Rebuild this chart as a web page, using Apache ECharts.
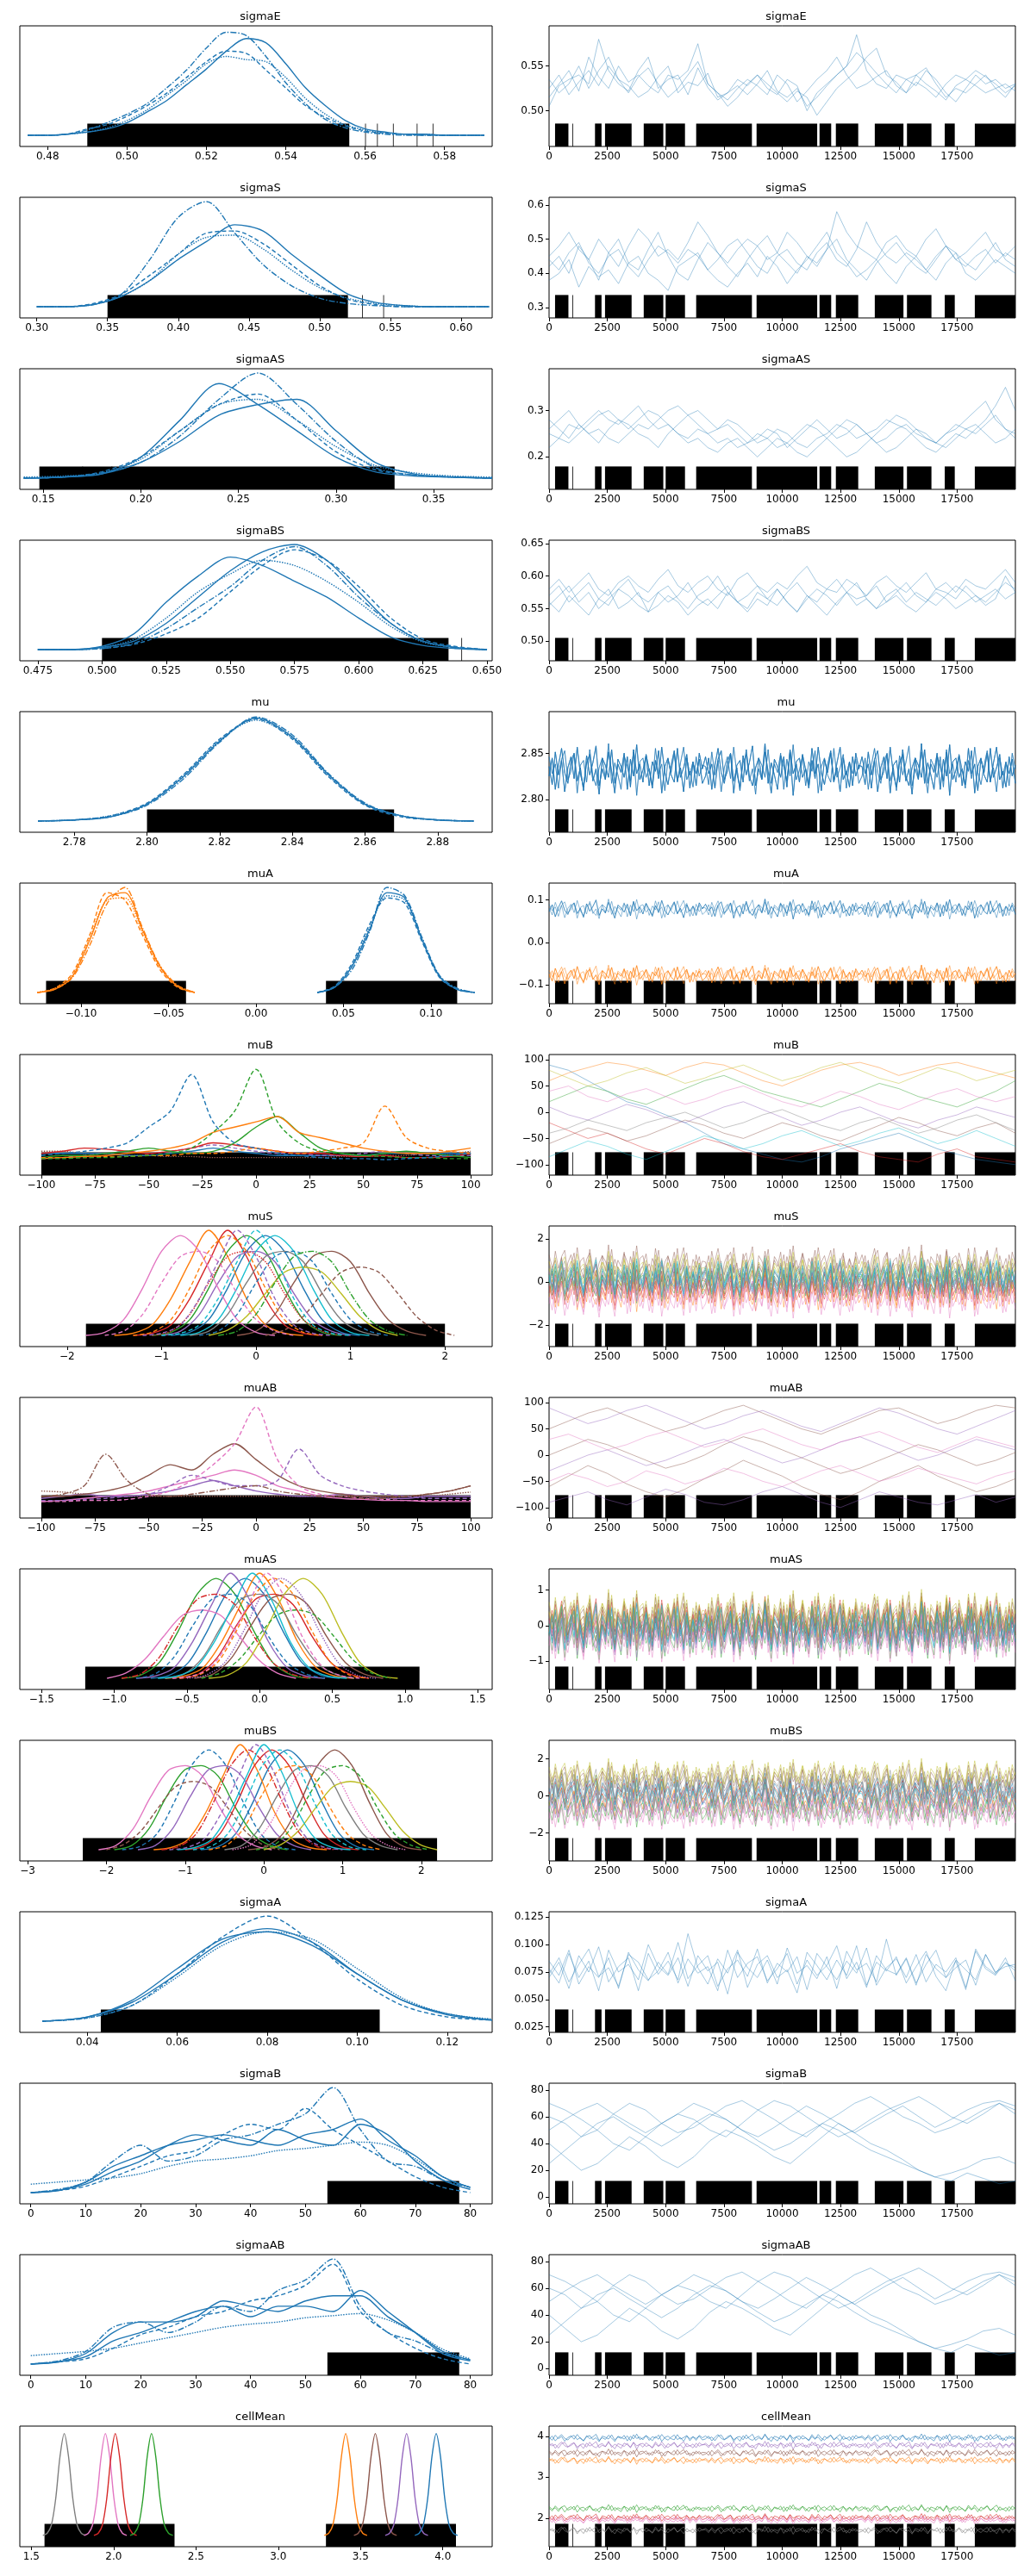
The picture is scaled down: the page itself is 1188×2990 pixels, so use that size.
<!DOCTYPE html>
<html>
<head>
<meta charset="utf-8">
<script src="https://cdn.jsdelivr.net/npm/echarts@6/dist/echarts.min.js"></script>
<style>html,body{margin:0;padding:0;background:#fff}#chart{width:1188px;height:2990px}</style>
</head>
<body>
<div id="chart"></div>
<script>
var C = ['#1f77b4','#ff7f0e','#2ca02c','#d62728','#9467bd','#8c564b','#e377c2','#7f7f7f','#bcbd22','#17becf'];
var LS = {s:'solid', d:[5,3], dd:[7,2,1.5,2], dot:[1.5,1.5]};
var MINUS = '\u2212';

// shapes of kde curves (11 points)
var G = {
  G1:[0,.03,.15,.45,.8,.95,.8,.45,.15,.03,0],
  G2:[0,.04,.2,.5,.75,.8,.7,.4,.15,.04,0],
  G3:[0,.02,.1,.35,.7,1,.75,.35,.1,.02,0],
  G4:[0,.05,.18,.4,.6,.65,.6,.4,.18,.05,0],
  G5:[0,.02,.1,.35,.75,.97,.75,.35,.1,.02,0]
};
// deviations used for the dense trace bands
var N = [
 '0.3 -1.2 1.5 -0.4 0.8 -1.8 0.2 1.1 -0.7 1.9 -0.3 -1.4 0.6 1.3 -0.9 0.1 -2.0 1.0 0.4 -0.6 1.7 -1.1 0.5 -0.2 1.4 -1.6 0.9 -0.5 2.1 -0.8 0.0 1.2 -1.3 0.7 -0.1 1.6 -1.9 0.3 1.0 -0.4 -1.0 1.8 -0.6 0.2 1.3 -1.5 0.6 -0.3 0.9 -1.1',
 '-0.5 1.0 -1.6 0.4 1.8 -0.2 -1.1 0.7 1.4 -0.9 0.2 -1.7 1.2 -0.4 0.6 2.0 -1.3 0.1 -0.8 1.5 -0.1 -1.9 0.9 0.3 -0.6 1.1 -1.4 1.7 -0.3 0.5 -1.0 1.3 0.0 -1.5 0.8 -0.7 1.9 -0.2 -1.2 0.4 1.6 -0.9 0.2 -1.8 1.0 -0.4 0.7 -1.3 1.4 0.1',
 '1.1 -0.3 0.5 -1.5 0.9 1.6 -0.8 -0.1 1.3 -1.9 0.4 0.8 -1.0 1.7 -0.5 -1.3 0.2 1.0 -0.7 2.2 -1.1 0.6 -0.4 -1.6 1.2 0.3 -0.9 1.5 -2.1 0.7 1.0 -0.6 0.1 -1.2 1.8 -0.3 0.5 -1.7 0.9 -0.2 1.4 -1.0 0.6 1.9 -0.8 -0.1 -1.4 1.1 -0.5 0.4'
].map(function(s){return s.split(' ').map(Number);});

var sigB_d = [
 ['dd',0,[0,.03,.1,.3,.45,.3,.35,.5,.55,.65,.75,1,.6,.3,.25,.12,.05]],
 ['s',0,[0,.02,.1,.25,.35,.45,.5,.55,.5,.45,.55,.6,.7,.5,.35,.15,.05]],
 ['s',0,[0,.02,.08,.2,.3,.45,.55,.5,.45,.6,.5,.45,.65,.55,.3,.12,.03]],
 ['d',0,[0,.02,.06,.15,.25,.35,.4,.55,.65,.6,.8,.6,.45,.3,.15,.05,0]],
 ['dot',0,[.08,.1,.12,.14,.18,.25,.3,.32,.35,.4,.42,.45,.48,.45,.32,.15,.05]]
];
var sigAB_d = [
 ['dd',0,[0,.03,.12,.35,.4,.3,.4,.55,.5,.7,.8,1,.55,.3,.22,.1,.04]],
 ['s',0,[0,.02,.1,.3,.4,.4,.45,.6,.55,.5,.6,.65,.65,.45,.3,.12,.04]],
 ['s',0,[0,.02,.07,.22,.3,.4,.5,.55,.45,.55,.55,.5,.7,.5,.3,.1,.03]],
 ['d',0,[0,.02,.05,.15,.28,.35,.45,.5,.6,.65,.75,.95,.5,.3,.15,.05,0]],
 ['dot',0,[.08,.1,.12,.15,.2,.25,.3,.35,.38,.4,.44,.46,.48,.42,.3,.14,.05]]
];
var sigB_t = [
 '60 55 45 50 62 70 65 55 48 52 60 68 72 65 58 50 45 55 62 70 75 68 60 55 48 52 58 65 70 62',
 '40 30 20 25 35 45 38 28 22 30 42 50 45 38 30 25 35 45 55 48 40 35 28 20 15 12 18 14 10 12',
 '70 65 58 50 40 35 45 55 62 58 50 45 55 65 72 68 60 52 45 50 58 65 70 75 68 60 55 62 70 65',
 '25 35 45 55 60 52 45 38 45 55 62 58 50 42 35 40 48 55 50 42 35 30 25 20 15 18 22 28 30 25',
 '50 58 65 70 62 55 48 55 62 70 65 58 50 45 52 60 68 62 55 48 55 62 68 60 52 58 65 70 72 68'
];
var div = [[257,830],[1000,1000],[1970,2250],[2400,3540],[4060,4900],[5000,5830],[6310,8700],[8900,11500],[11600,12100],[12300,13260],[13970,15200],[15350,16400],[16970,17400],[18260,20000]];

var panels = [
 {name:'sigmaE', lx:[0.473,0.592,[.48,.50,.52,.54,.56,.58],2], ry:[0.46,0.595,[.50,.55],2],
  kde:{x0:.475,dx:.005,c:[
   ['dd',0,[0,0,.01,.05,.12,.2,.3,.45,.62,.83,.98,.95,.75,.5,.3,.15,.07,.03,.01,0,0,0,0,0]],
   ['s',0,[0,0,.01,.03,.06,.12,.22,.33,.48,.63,.8,.92,.88,.68,.45,.28,.14,.06,.03,.01,.01,0,0,0]],
   ['d',0,[0,0,.01,.06,.1,.18,.28,.4,.55,.7,.8,.78,.62,.45,.28,.17,.09,.04,.02,.01,0,0,0,0]],
   ['dot',0,[0,0,.01,.03,.07,.14,.24,.38,.52,.68,.75,.72,.7,.55,.35,.2,.1,.05,.02,.01,.01,0,0,0]]]},
  tr:{u:.001,c:[
   '525 540 518 532 545 528 550 535 520 538 548 530 515 525 540 555 530 520 512 525 535 528 518 540 530 510 522 535 545 560 540 525 530 538 545 528 520 532 525 515 530 540 535 528 520 525 530 522',
   '515 530 545 522 560 538 525 550 532 540 528 520 540 535 545 575 530 520 505 515 530 540 525 518 535 528 500 520 530 540 550 585 545 530 525 540 535 528 545 535 520 510 525 540 530 535 525 530',
   '535 520 530 550 525 545 560 535 528 515 522 538 550 520 532 528 542 515 520 528 518 530 545 522 515 525 505 515 528 540 550 565 555 542 530 520 535 540 530 522 512 528 535 545 538 530 520 528',
   '505 528 535 540 530 580 545 530 522 545 560 525 535 540 518 548 526 512 520 535 528 540 530 520 510 522 515 495 510 525 535 545 560 570 540 532 520 540 548 530 515 525 520 530 540 525 515 530']},
  rug:[[.49,.556],[.56,.56],[.563,.563],[.567,.567],[.573,.573],[.577,.577]]},
 {name:'sigmaS', lx:[0.288,0.622,[.30,.35,.40,.45,.50,.55,.60],2], ry:[0.27,0.622,[.3,.4,.5,.6],1],
  kde:{x0:.30,dx:.02,c:[
   ['dd',0,[0,0,.02,.12,.45,.85,1.0,.7,.4,.2,.08,.03,.01,0,0,0,0]],
   ['s',0,[0,0,.02,.1,.25,.45,.62,.78,.72,.5,.3,.12,.04,.01,0,0,0]],
   ['d',0,[0,0,.03,.12,.3,.5,.7,.72,.6,.4,.2,.07,.02,0,0,0,0]],
   ['dot',0,[0,0,.02,.1,.25,.5,.66,.68,.55,.35,.18,.08,.03,.01,0,0,0]]]},
  tr:{u:.01,c:[
   '42 45 40 48 44 38 46 50 43 41 47 52 45 40 38 44 49 46 42 39 44 48 51 46 43 40 45 42 47 50 44 41 38 43 46 49 45 42 40 44 48 46 43 41 45 49 44 42',
   '38 40 44 36 42 39 41 37 43 45 40 38 35 42 44 46 41 38 36 40 43 39 45 42 37 41 44 48 52 46 43 39 41 44 40 37 42 45 41 38 43 46 40 38 41 44 42 40',
   '45 48 52 47 44 50 46 42 48 53 50 45 47 44 49 55 51 46 43 47 50 48 44 46 52 49 45 43 47 58 52 48 46 44 49 51 47 45 50 53 48 44 46 49 52 47 45 48',
   '44 41 46 49 43 40 45 47 42 39 44 48 46 43 47 45 41 44 48 50 46 42 40 45 47 43 41 46 49 44 42 47 55 49 45 43 46 44 41 45 48 44 42 45 47 43 46 44']},
  rug:[[.35,.52],[.53,.53],[.545,.545]]},
 {name:'sigmaAS', lx:[0.138,0.38,[.15,.20,.25,.30,.35],2], ry:[0.13,0.39,[.2,.3],1],
  kde:{x0:.14,dx:.02,c:[
   ['s',0,[0,.01,.04,.2,.55,.9,.7,.45,.2,.06,.02,.01,0]],
   ['s',0,[0,.01,.04,.15,.35,.6,.7,.75,.45,.15,.04,.01,0]],
   ['dd',0,[0,.01,.05,.15,.4,.75,1.0,.7,.35,.1,.03,.01,0]],
   ['d',0,[0,.01,.06,.2,.45,.7,.8,.55,.25,.08,.03,.01,0]],
   ['dot',0,[.01,.02,.05,.18,.45,.7,.75,.55,.3,.12,.05,.02,.01]]]},
  tr:{u:.01,c:[
   '25 24 27 26 28 30 28 27 29 31 28 26 27 25 24 26 25 23 24 22 23 25 24 26 25 23 22 24 25 27 26 24 25 23 24 26 27 25 24 23 25 26 28 30 32 28 26 25',
   '22 24 23 25 27 29 30 28 26 28 30 29 27 25 23 24 22 21 23 24 22 20 22 24 23 21 20 22 24 26 28 27 25 26 28 27 26 24 22 21 23 25 24 26 28 31 35 30',
   '28 26 24 27 25 23 26 28 27 25 24 22 25 27 29 30 28 26 27 25 23 24 26 25 22 24 26 28 26 24 25 27 25 23 21 22 24 26 25 23 22 24 26 27 25 23 24 26',
   '26 28 30 27 25 26 24 23 25 27 26 28 30 31 29 27 25 26 28 27 25 23 24 22 23 25 27 26 24 22 20 21 23 25 27 29 28 26 24 23 25 27 26 25 27 29 26 24']},
  rug:[[.148,.33],[.17,.17],[.185,.185]]},
 {name:'sigmaBS', lx:[0.468,0.652,[.475,.500,.525,.550,.575,.600,.625,.650],3], ry:[0.47,0.655,[.50,.55,.60,.65],2],
  kde:{x0:.475,dx:.0125,c:[
   ['s',0,[0,0,.02,.08,.25,.5,.75,.93,1,.85,.55,.25,.08,.02,0]],
   ['s',0,[0,0,.03,.15,.45,.7,.88,.8,.65,.5,.3,.12,.04,.01,0]],
   ['d',0,[0,0,.01,.05,.15,.3,.55,.8,.95,.85,.6,.3,.1,.03,0]],
   ['dot',0,[0,0,.02,.1,.3,.55,.72,.85,.8,.65,.45,.22,.07,.02,0]],
   ['dd',0,[0,0,.01,.06,.2,.4,.6,.85,.98,.8,.5,.25,.08,.02,0]]]},
  tr:{u:.001,c:[
   '570 585 560 575 590 565 555 580 595 570 560 575 585 565 550 570 580 600 575 560 570 585 565 555 575 590 570 560 580 595 575 565 570 585 560 575 590 570 560 580 575 565 585 570 560 575 590 580',
   '560 545 570 555 540 565 580 550 560 575 545 555 570 560 540 555 565 550 575 560 545 565 555 580 560 545 570 555 540 560 575 555 565 550 560 570 555 545 560 575 565 550 560 570 555 565 600 575',
   '580 595 575 590 605 580 570 590 600 585 575 595 610 585 575 590 600 580 570 595 605 585 575 590 580 600 615 590 580 575 595 585 570 590 600 585 575 590 605 580 590 575 595 585 580 595 610 590',
   '555 570 585 560 575 550 565 580 570 555 545 575 560 570 590 565 555 570 585 560 550 575 565 580 560 545 565 580 570 555 575 590 565 550 570 580 560 575 565 555 570 585 575 560 570 580 565 575']},
  rug:[[.50,.635],[.64,.64]]},
 {name:'mu', lx:[2.765,2.895,[2.78,2.80,2.82,2.84,2.86,2.88],2], ry:[2.765,2.895,[2.80,2.85],2],
  kde:{x0:2.77,dx:.01,c:[
   ['s',0,[0,.01,.04,.16,.42,.76,.98,.8,.44,.16,.05,.01,0]],
   ['d',0,[0,.01,.05,.17,.44,.78,.97,.78,.42,.15,.04,.01,0]],
   ['dd',0,[0,.01,.04,.15,.4,.75,.99,.82,.45,.17,.05,.01,0]],
   ['dot',0,[0,.01,.05,.16,.43,.77,.96,.79,.43,.16,.05,.01,0]]]},
  dt:{sd:.013,op:.55,m:[2.832,2.832,2.832,2.832], cc:[0,0,0,0]},
  rug:[[2.80,2.868]]},
 {name:'muA', lx:[-0.135,0.135,[-.10,-.05,0,.05,.10],2], ry:[-0.145,0.14,[-.1,0,.1],1],
  kdeG:[
   {x0:-.125,dx:.01,c:[['s',1,[0,.03,.15,.5,.9,.95,.6,.25,.06,0]],['d',1,[0,.04,.18,.55,.95,.88,.55,.22,.05,0]],['dd',1,[0,.03,.14,.45,.85,1,.62,.26,.07,0]],['dot',1,[0,.04,.16,.52,.88,.9,.58,.24,.06,0]]]},
   {x0:.035,dx:.01,c:[['s',0,[0,.05,.25,.6,.95,.9,.5,.15,.03,0]],['d',0,[0,.06,.28,.65,.9,.85,.48,.14,.03,0]],['dd',0,[0,.05,.22,.58,1,.92,.52,.16,.04,0]],['dot',0,[0,.05,.26,.62,.92,.88,.5,.15,.03,0]]]}],
  dt:{sd:.011,op:.5,m:[.078,.078,-.078,-.078], cc:[0,0,1,1]},
  rug:[[-.12,-.04],[.04,.115]]},
 {name:'muB', lx:[-110,110,[-100,-75,-50,-25,0,25,50,75,100],0], ry:[-120,110,[-100,-50,0,50,100],0],
  kde:{x0:-100,dx:10,c:[
   ['dot',5,[.12,.12,.1,.1,.08,.08,.07,.07,.06,.06,.06,.06,.06,.06,.07,.07,.08,.08,.1,.1,.12]],
   ['s',0,[.1,.1,.1,.1,.08,.08,.1,.12,.15,.12,.1,.08,.08,.08,.08,.08,.1,.1,.1,.1,.1]],
   ['d',4,[.05,.06,.08,.1,.12,.1,.12,.15,.18,.15,.12,.1,.1,.08,.08,.1,.12,.1,.08,.08,.08]],
   ['s',3,[.1,.12,.15,.14,.12,.1,.12,.15,.2,.18,.15,.12,.1,.1,.08,.07,.08,.06,.06,.07,.1]],
   ['s',2,[.06,.08,.08,.1,.12,.15,.12,.1,.12,.2,.35,.45,.3,.15,.1,.08,.1,.12,.1,.08,.06]],
   ['s',1,[.05,.06,.07,.08,.1,.12,.15,.2,.3,.35,.4,.45,.3,.25,.2,.15,.12,.1,.1,.12,.15]],
   ['d',1,[.06,.06,.06,.07,.07,.08,.08,.1,.1,.12,.15,.12,.1,.12,.15,.2,.55,.25,.15,.12,.1]],
   ['d',2,[.05,.05,.06,.06,.07,.08,.1,.15,.3,.5,.9,.4,.2,.12,.1,.08,.07,.06,.06,.05,.05]],
   ['d',0,[.08,.1,.12,.15,.2,.35,.5,.85,.4,.2,.15,.1,.08,.06,.05,.05,.04,.05,.06,.08,.1]]]},
  tr:{u:1,op:.45,cc:[0,1,2,3,4,5,6,7,8,9],c:[
   '90 80 60 40 20 10 -5 -20 -40 -60 -70 -80 -90 -95 -85 -70 -60 -50 -40 -55 -70 -80 -90 -95 -100',
   '60 75 85 95 90 80 70 85 95 90 75 60 50 65 80 90 95 85 70 80 90 95 85 75 65',
   '20 35 50 40 25 15 30 45 60 70 55 40 30 20 10 25 40 55 45 30 20 10 25 40 60',
   '-20 -35 -50 -40 -55 -70 -80 -65 -50 -60 -75 -85 -90 -80 -70 -60 -75 -85 -90 -95 -80 -70 -85 -90 -95',
   '10 -5 -15 0 15 5 -10 -20 -5 10 20 5 -10 -25 -15 0 10 -5 -20 -30 -15 -5 10 0 -10',
   '-60 -45 -30 -40 -55 -45 -30 -15 -25 -40 -50 -35 -20 -30 -45 -55 -40 -25 -10 -20 -35 -45 -30 -20 -40',
   '40 50 30 20 35 45 30 15 25 40 50 35 20 10 25 40 30 15 5 20 35 45 30 20 30',
   '-40 -30 -15 -25 -35 -20 -10 0 -15 -30 -20 -5 5 -10 -25 -35 -20 -10 -25 -40 -30 -15 -5 -20 -35',
   '80 65 50 60 75 85 70 55 65 80 90 75 60 70 85 95 80 65 55 70 85 75 60 70 80',
   '-85 -70 -55 -65 -80 -90 -75 -60 -45 -55 -70 -60 -45 -35 -50 -65 -55 -40 -30 -45 -60 -50 -35 -50 -65']},
  rug:[[-100,100]]},
 {name:'muS', lx:[-2.5,2.5,[-2,-1,0,1,2],0], ry:[-3,2.6,[-2,0,2],0],
  gk:{hs:1,c:[[0,'s',0.1,'G1'],[1,'s',-0.5,'G3'],[2,'s',-0.1,'G1'],[3,'s',-0.3,'G3'],[4,'s',0.0,'G2'],[5,'s',0.8,'G2'],[6,'s',-0.8,'G1'],[7,'s',0.3,'G2'],[8,'s',0.5,'G4'],[9,'s',0.2,'G1'],[5,'d',1.1,'G4'],[0,'d',0.4,'G2'],[1,'d',-0.3,'G1'],[6,'d',-0.6,'G2'],[2,'dd',0.6,'G2'],[3,'dot',-0.1,'G2'],[4,'d',-0.2,'G3'],[9,'d',0.0,'G3']]},
  dt:{sd:.42,m:[0.1,-0.5,-0.1,-0.3,0.0,0.8,-0.8,0.3,0.5,0.2]},
  rug:[[-1.8,2.0]]},
 {name:'muAB', lx:[-110,110,[-100,-75,-50,-25,0,25,50,75,100],0], ry:[-120,110,[-100,-50,0,50,100],0],
  kde:{x0:-100,dx:10,c:[
   ['dot',5,[.15,.14,.12,.1,.1,.1,.1,.1,.1,.1,.1,.1,.1,.1,.1,.1,.1,.1,.1,.12,.14]],
   ['s',6,[.05,.06,.08,.1,.12,.15,.2,.25,.3,.35,.3,.2,.15,.1,.08,.07,.06,.06,.05,.05,.05]],
   ['s',4,[.08,.1,.12,.1,.1,.12,.15,.2,.25,.2,.15,.12,.1,.1,.12,.1,.08,.08,.1,.1,.1]],
   ['s',5,[.1,.1,.12,.15,.2,.3,.4,.35,.5,.6,.45,.3,.2,.15,.12,.1,.1,.1,.12,.15,.2]],
   ['d',4,[.06,.06,.07,.08,.1,.12,.2,.3,.25,.2,.2,.25,.55,.3,.2,.15,.12,.1,.08,.08,.08]],
   ['d',6,[.05,.05,.06,.06,.07,.1,.15,.25,.4,.6,.95,.45,.2,.12,.1,.08,.07,.06,.06,.06,.06]],
   ['dd',5,[.1,.12,.2,.5,.25,.12,.1,.12,.15,.18,.2,.15,.12,.1,.1,.08,.08,.1,.12,.15,.2]]]},
  tr:{u:1,op:.45,cc:[5,5,5,4,4,4,6,6],c:[
   '-60 -40 -20 -35 -55 -70 -80 -65 -45 -30 -10 -25 -40 -60 -75 -85 -70 -50 -35 -20 -40 -55 -70 -60 -45',
   '50 65 80 90 75 60 45 55 70 85 95 80 65 50 40 55 70 85 90 75 60 70 85 95 90',
   '0 15 30 20 5 -10 -25 -15 0 20 35 25 10 -5 -20 -35 -25 -10 5 20 10 -5 -20 -10 5',
   '90 75 60 70 85 95 80 65 50 60 75 85 70 55 45 60 75 90 80 65 50 40 55 70 85',
   '-90 -80 -70 -85 -95 -80 -65 -75 -90 -95 -85 -70 -60 -75 -90 -100 -85 -70 -80 -90 -95 -85 -75 -90 -80',
   '-30 -15 0 10 -5 -20 -10 5 20 30 15 0 -15 -5 10 25 35 20 5 -10 0 15 30 20 10',
   '30 40 25 10 20 35 45 30 15 25 40 50 35 20 10 25 35 45 30 15 5 20 35 25 15',
   '-50 -35 -45 -60 -50 -30 -40 -55 -45 -25 -35 -50 -60 -45 -30 -20 -35 -50 -40 -25 -35 -45 -55 -40 -30']},
  rug:[[-100,100]]},
 {name:'muAS', lx:[-1.65,1.6,[-1.5,-1,-.5,0,.5,1,1.5],1], ry:[-1.8,1.6,[-1,0,1],0],
  gk:{hs:.65,c:[[0,'s',-0.1,'G1'],[1,'s',0.0,'G3'],[2,'s',-0.3,'G1'],[3,'s',0.1,'G2'],[4,'s',-0.2,'G3'],[5,'s',0.2,'G2'],[6,'s',-0.4,'G4'],[7,'s',0.0,'G2'],[8,'s',0.3,'G1'],[9,'s',-0.05,'G3'],[1,'d',0.1,'G1'],[0,'d',-0.2,'G2'],[2,'d',0.25,'G4'],[3,'dd',-0.3,'G2'],[4,'dot',0.15,'G1'],[6,'d',0.05,'G3']]},
  dt:{sd:.33,m:[-0.1,0.0,-0.3,0.1,-0.2,0.2,-0.4,0.0,0.3,-0.05]},
  rug:[[-1.2,1.1]]},
 {name:'muBS', lx:[-3.1,2.9,[-3,-2,-1,0,1,2,3],0], ry:[-3.5,3,[-2,0,2],0],
  gk:{hs:1.1,c:[[0,'s',0.3,'G1'],[1,'s',-0.3,'G3'],[2,'s',-0.8,'G2'],[3,'s',0.1,'G1'],[4,'s',-0.5,'G2'],[5,'s',0.9,'G1'],[6,'s',-1.0,'G2'],[7,'s',0.6,'G2'],[8,'s',1.1,'G4'],[9,'s',0.0,'G3'],[1,'d',0.4,'G2'],[0,'d',-0.7,'G1'],[2,'d',1.0,'G2'],[3,'dd',-0.2,'G1'],[5,'d',-0.9,'G4'],[6,'dot',0.7,'G2'],[4,'d',-0.1,'G3'],[9,'d',0.2,'G1']]},
  dt:{sd:.42,m:[0.3,-0.3,-0.8,0.1,-0.5,0.9,-1.0,0.6,1.1,0.0]},
  rug:[[-2.3,2.2]]},
 {name:'sigmaA', lx:[0.025,0.13,[.04,.06,.08,.10,.12],2], ry:[0.02,0.13,[.025,.050,.075,.100,.125],3],
  kde:{x0:.03,dx:.01,c:[
   ['d',0,[0,.03,.15,.45,.8,1,.75,.4,.15,.04,.01]],
   ['s',0,[0,.04,.18,.45,.75,.88,.75,.45,.2,.06,.01]],
   ['s',0,[0,.04,.2,.5,.78,.85,.72,.45,.2,.07,.01]],
   ['dot',0,[0,.03,.15,.42,.72,.85,.78,.5,.22,.07,.02]]]},
  tr:{u:.001,c:[
   '78 65 92 70 85 58 95 75 82 68 100 80 72 88 62 90 76 84 55 93 79 70 86 64 97 74 81 69 89 60 94 77 83 66 105 72 87 63 91 78 70 85 59 96 80 73 88 67',
   '70 84 60 90 75 98 66 80 88 58 92 73 85 68 110 79 64 87 74 95 61 82 90 70 77 56 93 81 68 86 72 99 63 84 76 89 65 80 94 71 58 86 77 68 91 74 83 79',
   '85 72 95 64 80 70 88 60 93 77 67 84 73 102 69 81 90 62 78 86 71 96 65 83 75 89 59 92 80 68 85 74 97 63 79 87 70 91 66 82 75 88 61 94 78 72 84 76',
   '73 88 66 82 96 71 79 62 91 84 68 76 93 65 87 74 80 58 95 70 83 89 67 78 92 64 86 72 81 99 69 84 61 90 77 73 88 65 82 95 70 79 86 63 91 75 80 82']},
  rug:[[.043,.105]]},
 {name:'sigmaB', lx:[-2,84,[0,10,20,30,40,50,60,70,80],0], ry:[-5,85,[0,20,40,60,80],0],
  kde:{x0:0,dx:5,c:sigB_d}, tr:{u:1,c:sigB_t}, rug:[[54,78]]},
 {name:'sigmaAB', lx:[-2,84,[0,10,20,30,40,50,60,70,80],0], ry:[-5,85,[0,20,40,60,80],0],
  kde:{x0:0,dx:5,c:sigAB_d}, tr:{u:1,c:sigB_t}, rug:[[54,78]]},
 {name:'cellMean', lx:[1.43,4.3,[1.5,2,2.5,3,3.5,4],1], ry:[1.3,4.25,[2,3,4],0],
  gk:{hs:.13,c:[[7,'s',1.7,'G5'],[6,'s',1.95,'G5'],[3,'s',2.01,'G5'],[2,'s',2.23,'G5'],[1,'s',3.41,'G5'],[5,'s',3.59,'G5'],[4,'s',3.78,'G5'],[0,'s',3.96,'G5']]},
  dt:{sd:.045,op:.6,m:[3.96,3.41,2.23,2.01,3.78,3.59,1.95,1.7]},
  rug:[[1.58,2.37],[3.29,4.08]]}
];

function fmt(d){ return function(v){ var s = (+v).toFixed(d); return s.charAt(0)==='-' ? MINUS + s.slice(1) : s; }; }
function trace(vals){ var n = vals.length; return vals.map(function(v,i){ return [i*19999/(n-1), v]; }); }
function rugSeries(idx, data){
  return {type:'custom', xAxisIndex:idx, yAxisIndex:idx, silent:true, z:1, clip:true,
    encode:{x:[0,1]}, data:data,
    renderItem:function(params, api){
      var cs = params.coordSys;
      var x0 = api.coord([api.value(0),0])[0], x1 = api.coord([api.value(1),0])[0];
      return {type:'rect', shape:{x:x0, y:cs.y+cs.height*0.81, width:Math.max(x1-x0,0.8), height:cs.height*0.19}, style:{fill:'#000'}};
    }};
}

var grids=[], xAxes=[], yAxes=[], titles=[], series=[];
var axisCommon = {axisLine:{show:false, onZero:false}, splitLine:{show:false},
  axisTick:{show:true, length:4, lineStyle:{color:'#000'}},
  axisLabel:{color:'#000', fontSize:12, fontFamily:'DejaVu Sans', margin:6}};
var xt = [0,2500,5000,7500,10000,12500,15000,17500];

panels.forEach(function(p, r){
  var top = 30 + 199*r, li = 2*r, ri = 2*r+1;
  grids.push({left:23, top:top, width:548, height:140, show:true, borderColor:'#000', borderWidth:1, backgroundColor:'transparent'});
  grids.push({left:637, top:top, width:541, height:140, show:true, borderColor:'#000', borderWidth:1, backgroundColor:'transparent'});
  titles.push({text:p.name, left:23+274, top:top-22, textAlign:'center', textStyle:{fontSize:13, fontWeight:'normal', color:'#000', fontFamily:'DejaVu Sans'}});
  titles.push({text:p.name, left:637+270, top:top-22, textAlign:'center', textStyle:{fontSize:13, fontWeight:'normal', color:'#000', fontFamily:'DejaVu Sans'}});
  xAxes.push(echarts.util.merge({type:'value', gridIndex:li, min:p.lx[0], max:p.lx[1],
    axisTick:{customValues:p.lx[2]}, axisLabel:{customValues:p.lx[2], formatter:fmt(p.lx[3])}}, axisCommon));
  yAxes.push({type:'value', gridIndex:li, min:-0.107, max:1.041, show:false});
  xAxes.push(echarts.util.merge({type:'value', gridIndex:ri, min:0, max:20000,
    axisTick:{customValues:xt}, axisLabel:{customValues:xt, formatter:fmt(0)}}, axisCommon));
  yAxes.push(echarts.util.merge({type:'value', gridIndex:ri, min:p.ry[0], max:p.ry[1],
    axisTick:{customValues:p.ry[2]}, axisLabel:{customValues:p.ry[2], formatter:fmt(p.ry[3])}}, axisCommon));

  series.push(rugSeries(li, p.rug));
  series.push(rugSeries(ri, div));

  function kdeLine(col, ls, pts){
    series.push({type:'line', xAxisIndex:li, yAxisIndex:li, data:pts, showSymbol:false, smooth:0.3, silent:true, z:3,
      lineStyle:{color:C[col], width:1.4, type:LS[ls]}});
  }
  var groups = p.kdeG || (p.kde ? [p.kde] : []);
  groups.forEach(function(g){
    g.c.forEach(function(c){ kdeLine(c[1], c[0], c[2].map(function(y,i){ return [g.x0+i*g.dx, y]; })); });
  });
  if (p.gk) p.gk.c.forEach(function(c){
    var sh = G[c[3]], dx = p.gk.hs/5;
    kdeLine(c[0], c[1], sh.map(function(y,i){ return [c[2]-p.gk.hs+i*dx, y]; }));
  });

  function trLine(col, pts, op){
    series.push({type:'line', xAxisIndex:ri, yAxisIndex:ri, data:pts, showSymbol:false, silent:true, z:2,
      lineStyle:{color:C[col], width:1, opacity:op}});
  }
  if (p.tr) p.tr.c.forEach(function(s, k){
    var vals = s.split(' ').map(function(v){ return Number(v)*p.tr.u; });
    trLine(p.tr.cc ? p.tr.cc[k] : 0, trace(vals), p.tr.op || 0.4);
  });
  // dense bands: chain mean + the typed deviations, 150 samples per chain
  if (p.dt) p.dt.m.forEach(function(m, k){
    [k%3, (k+1)%3].forEach(function(ni){
      var dev = N[ni].concat(N[(ni+1)%3], N[(ni+2)%3]);
      trLine(p.dt.cc ? p.dt.cc[k] : k, trace(dev.map(function(d){ return m + d*p.dt.sd; })), p.dt.op || 0.45);
    });
  });
});

var chart = echarts.init(document.getElementById('chart'), null, {renderer:'canvas'});
chart.setOption({animation:false, backgroundColor:'#fff', title:titles, grid:grids, xAxis:xAxes, yAxis:yAxes, series:series});
</script>
</body>
</html>
